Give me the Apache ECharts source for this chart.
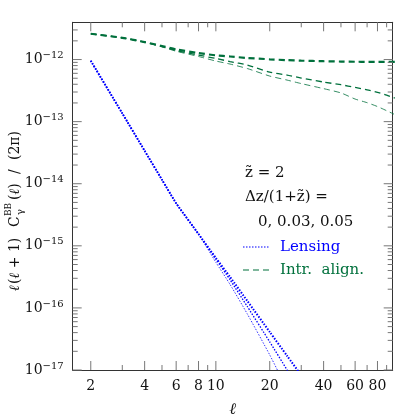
<!DOCTYPE html>
<html>
<head>
<meta charset="utf-8">
<script src="https://cdn.jsdelivr.net/npm/echarts@6/dist/echarts.min.js"></script>
<style>
  html, body { margin: 0; padding: 0; background: #fff; }
  #chart { width: 415px; height: 415px; }
</style>
</head>
<body>
<div id="chart"></div>
<script>
// multipoles
var ellLens = [2, 3, 4, 5, 6, 8, 10, 12, 15, 20, 25, 30, 40];
var ellIA = [2, 3, 4, 5, 6, 8, 10, 12, 15, 20, 25, 30, 40, 50, 60, 70, 80, 90, 100];

// lensing B-mode, dz/(1+z) = 0, 0.03, 0.05
var lens0 = [9.55e-13, 1.36e-13, 3.39e-14, 1.16e-14, 4.84e-15, 1.55e-15, 6.38e-16, 3.15e-16, 1.29e-16, 4.10e-17, 1.69e-17, 8.18e-18, 2.61e-18];
var lens3 = [9.55e-13, 1.36e-13, 3.39e-14, 1.16e-14, 4.84e-15, 1.55e-15, 6.10e-16, 2.84e-16, 1.05e-16, 2.84e-17, 1.00e-17, 4.10e-18, 9.25e-19];
var lens5 = [9.55e-13, 1.36e-13, 3.39e-14, 1.16e-14, 4.84e-15, 1.55e-15, 5.43e-16, 2.39e-16, 7.96e-17, 1.75e-17, 4.86e-18, 1.71e-18, 3.31e-19];

// intrinsic alignment B-mode, dz/(1+z) = 0, 0.03, 0.05
var ia0 = [2.60e-12, 2.24e-12, 1.91e-12, 1.65e-12, 1.46e-12, 1.27e-12, 1.17e-12, 1.12e-12, 1.06e-12, 1.01e-12, 9.78e-13, 9.60e-13, 9.40e-13, 9.29e-13, 9.22e-13, 9.20e-13, 9.20e-13, 9.20e-13, 9.20e-13];
var ia3 = [2.60e-12, 2.24e-12, 1.91e-12, 1.62e-12, 1.40e-12, 1.18e-12, 1.04e-12, 9.29e-13, 8.15e-13, 6.28e-13, 5.62e-13, 5.04e-13, 4.34e-13, 3.93e-13, 3.56e-13, 3.26e-13, 2.96e-13, 2.67e-13, 2.39e-13];
var ia5 = [2.60e-12, 2.24e-12, 1.91e-12, 1.60e-12, 1.36e-12, 1.12e-12, 9.46e-13, 8.46e-13, 7.16e-13, 5.42e-13, 4.67e-13, 4.10e-13, 3.40e-13, 2.90e-13, 2.31e-13, 2.02e-13, 1.75e-13, 1.50e-13, 1.30e-13];

// axis ticks
var xMajorTicks = [2, 4, 6, 8, 10, 20, 40, 60, 80];
var xMinorTicks = [3, 5, 7, 9, 30, 50, 70, 90];
var yMajorTicks = [1e-17, 1e-16, 1e-15, 1e-14, 1e-13, 1e-12];
var yMinorTicks = [];
[1e-17, 1e-16, 1e-15, 1e-14, 1e-13].forEach(function (d) {
    for (var k = 2; k <= 9; k++) yMinorTicks.push(+(k * d).toPrecision(3));
});
yMinorTicks.push(2e-12, 3e-12);

var X_MIN = 1.585, X_MAX = 97.3;
var Y_MIN = 1e-17, Y_MAX = 3.98e-12;

var FONT = '"DejaVu Serif", "Liberation Serif", serif';
var BLUE = '#0000ff';
var GREEN = '#00703c';
var TICK = '#777';

function pairs(xs, ys) {
    return xs.map(function (x, i) { return [x, ys[i]]; });
}

function logAxis(kind, position, labels) {
    return {
        type: 'log',
        logBase: 10,
        min: kind === 'x' ? X_MIN : Y_MIN,
        max: kind === 'x' ? X_MAX : Y_MAX,
        position: position,
        axisLine: { show: true, onZero: false, lineStyle: { color: '#333', width: 1 } },
        splitLine: { show: false },
        axisTick: { show: false },
        axisLabel: labels || { show: false }
    };
}

var chart = echarts.init(document.getElementById('chart'));

var xLabel = {
    show: true,
    customValues: xMajorTicks,
    margin: 9,
    color: '#111',
    fontFamily: FONT,
    fontSize: 14,
    formatter: function (v) { return String(Math.round(v)); }
};
var yLabel = {
    show: true,
    customValues: yMajorTicks,
    margin: 9,
    color: '#111',
    fontFamily: FONT,
    fontSize: 14,
    lineHeight: 18,
    formatter: function (v) {
        var e = Math.round(Math.log10(v));
        return '10{s|\u2212' + Math.abs(e) + '}';
    },
    rich: {
        s: { fontSize: 10, lineHeight: 10, verticalAlign: 'top', fontFamily: FONT, color: '#111' }
    }
};

var xAxes = [logAxis('x', 'bottom', xLabel), logAxis('x', 'top')];
xAxes[0].name = 'ℓ';
xAxes[0].nameLocation = 'middle';
xAxes[0].nameGap = 32;
xAxes[0].nameTextStyle = { fontFamily: FONT, fontSize: 16, fontStyle: 'italic', color: '#111' };
var yAxes = [logAxis('y', 'left', yLabel), logAxis('y', 'right')];

function lensSeries(name, data, width) {
    return {
        name: name, type: 'line', data: data, showSymbol: false, smooth: 0.2,
        clip: true, silent: true,
        lineStyle: { color: BLUE, width: width, type: [1.5, 1.5] }
    };
}
function iaSeries(name, data, width) {
    return {
        name: name, type: 'line', data: data, showSymbol: false, smooth: 0.2,
        clip: true, silent: true,
        lineStyle: { color: GREEN, width: width, type: [6, 4] }
    };
}

// inward ticks on all four sides, placed through the log axes
function tickLine(x1, y1, x2, y2) {
    return { type: 'line', shape: { x1: x1, y1: y1, x2: x2, y2: y2 }, style: { stroke: TICK, lineWidth: 1 } };
}
var xTickData = xMajorTicks.map(function (v) { return [v, Y_MIN, 9]; })
    .concat(xMinorTicks.map(function (v) { return [v, Y_MIN, 5]; }));
var yTickData = yMajorTicks.map(function (v) { return [X_MIN, v, 9]; })
    .concat(yMinorTicks.map(function (v) { return [X_MIN, v, 5]; }));

var xTickSeries = {
    type: 'custom', silent: true, clip: false, z: 5,
    data: xTickData,
    renderItem: function (params, api) {
        var cs = params.coordSys;
        var x = api.coord([api.value(0), Y_MIN])[0];
        var len = api.value(2);
        return { type: 'group', children: [
            tickLine(x, cs.y + cs.height, x, cs.y + cs.height - len),
            tickLine(x, cs.y, x, cs.y + len)
        ] };
    }
};
var yTickSeries = {
    type: 'custom', silent: true, clip: false, z: 5,
    data: yTickData,
    renderItem: function (params, api) {
        var cs = params.coordSys;
        var y = api.coord([X_MIN, api.value(1)])[1];
        var len = api.value(2);
        return { type: 'group', children: [
            tickLine(cs.x, y, cs.x + len, y),
            tickLine(cs.x + cs.width, y, cs.x + cs.width - len, y)
        ] };
    }
};

var tStyle = { fontFamily: FONT, fontSize: 15, fill: '#111' };
function txt(x, y, text, extra) {
    var st = Object.assign({}, tStyle, { text: text, x: x, y: y, verticalAlign: 'middle' }, extra || {});
    return { type: 'text', style: st, silent: true };
}

// rotated y-axis title, pieces laid out along the axis
var titleFont = { fontFamily: FONT, fontSize: 14, fill: '#111', verticalAlign: 'middle' };
function tpiece(x, y, text, extra) {
    return { type: 'text', style: Object.assign({}, titleFont, { text: text, x: x, y: y }, extra || {}), silent: true };
}
var italicRich = { i: { fontFamily: FONT, fontSize: 14, fontStyle: 'italic', fill: '#111' } };

chart.setOption({
    animation: false,
    grid: {
        left: 72.7, right: 22.3, top: 22.3, bottom: 45,
        show: false,
        outerBoundsMode: 'none'
    },
    xAxis: xAxes,
    yAxis: yAxes,
    series: [
        xTickSeries,
        yTickSeries,
        lensSeries('lens5', pairs(ellLens, lens5), 0.8),
        lensSeries('lens3', pairs(ellLens, lens3), 1.3),
        lensSeries('lens0', pairs(ellLens, lens0), 2),
        iaSeries('ia5', pairs(ellIA, ia5), 0.8),
        iaSeries('ia3', pairs(ellIA, ia3), 1.3),
        iaSeries('ia0', pairs(ellIA, ia0), 2.2)
    ],
    graphic: [
        txt(245, 173, 'z\u0303 = 2'),
        txt(245, 197, '\u0394z/(1+z\u0303) ='),
        txt(258, 222, '0, 0.03, 0.05'),
        { type: 'line', silent: true, shape: { x1: 243, y1: 247, x2: 270, y2: 247 },
          style: { stroke: BLUE, lineWidth: 1.2, lineDash: [1.5, 1.5] } },
        txt(280, 247, 'Lensing', { fill: BLUE }),
        { type: 'line', silent: true, shape: { x1: 243, y1: 270, x2: 270, y2: 270 },
          style: { stroke: GREEN, lineWidth: 1.2, lineDash: [6, 4] } },
        txt(280, 270, 'Intr.  align.', { fill: GREEN }),
        {
            type: 'group', x: 15, y: 291, rotation: Math.PI / 2, silent: true,
            children: [
                tpiece(0, 0, '{i|ℓ}', { rich: italicRich }),
                tpiece(7, 0, '({i|ℓ} + 1)', { rich: italicRich }),
                tpiece(64, 0, 'C'),
                tpiece(75, -6, 'BB', { fontSize: 9 }),
                tpiece(76, 5, '\u03b3', { fontSize: 10 }),
                tpiece(91, 0, '({i|ℓ})', { rich: italicRich }),
                tpiece(117, 0, '/'),
                tpiece(131, 0, '(2\u03c0)')
            ]
        }
    ]
});
</script>
</body>
</html>
